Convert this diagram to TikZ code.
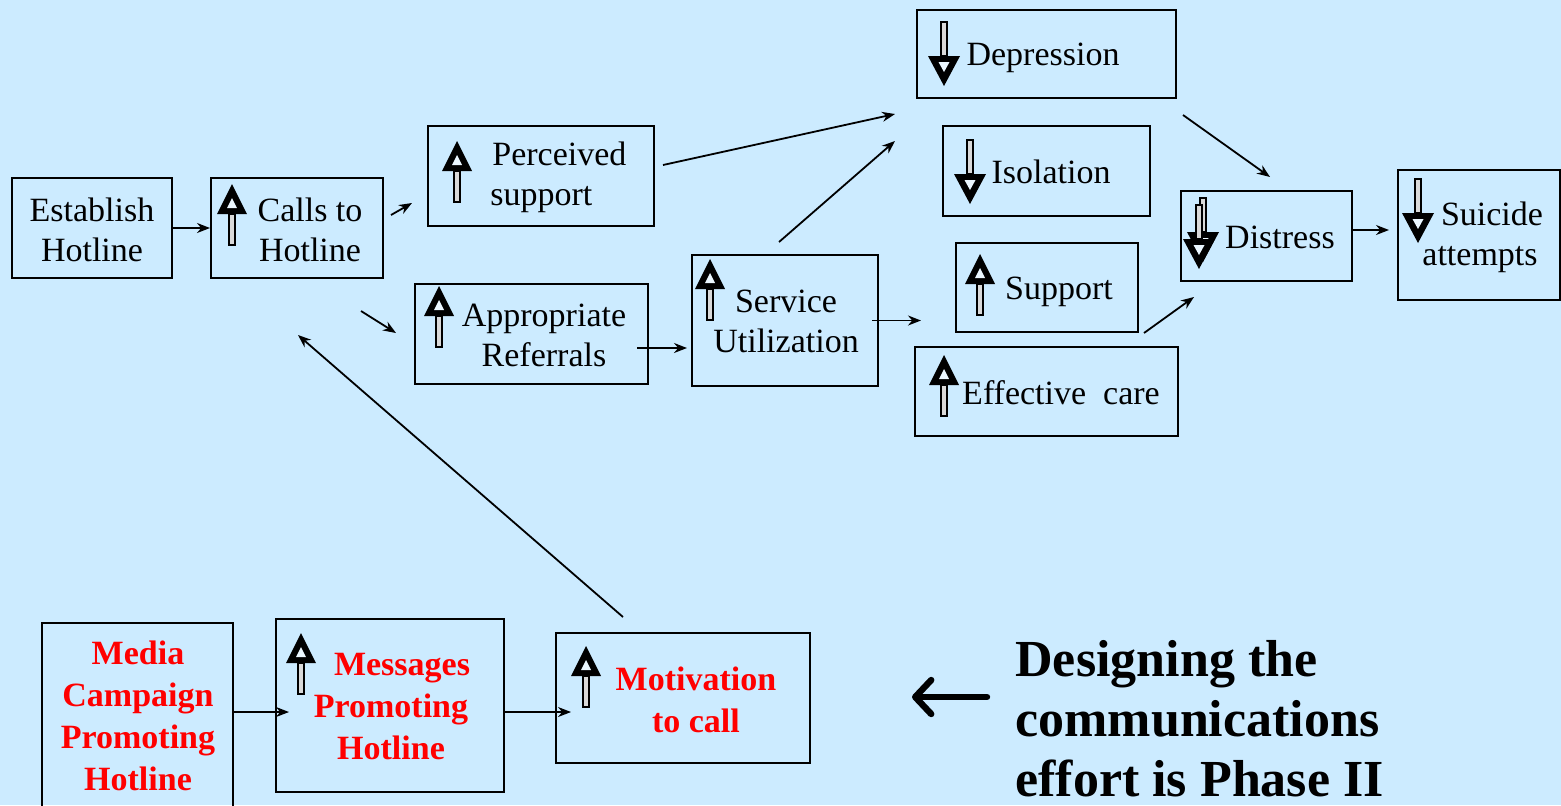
\documentclass[tikz,border=0pt]{standalone}
\usepackage{fontspec}
\setmainfont{Liberation Serif}
\usetikzlibrary{arrows.meta}
\usetikzlibrary{calc}
\definecolor{slidebg}{HTML}{CCEBFF}
\definecolor{campred}{HTML}{FF0000}

\begin{document}
\begin{tikzpicture}[x=0.5pt, y=-0.5pt,
    box/.style={draw, line width=1pt, inner sep=0pt},
    txt/.style={align=center, inner sep=0pt, font=\fontsize{17}{20}\selectfont},
    redtxt/.style={align=center, inner sep=0pt, text=campred, font=\fontsize{17}{21}\selectfont\bfseries},
    link/.style={-{Stealth[length=6.5pt,width=5pt]}, line width=0.9pt},
    upmark/.pic={
        \fill (0,0) -- (15,30) -- (-15,30) -- cycle;
        \fill[white!60!slidebg] (0,14) -- (5,24) -- (-5,24) -- cycle;
        \draw[line width=0.7pt, fill=white!70!gray] (-3,30) rectangle (3,61);
    },
    downmark/.pic={
        \draw[line width=0.7pt, fill=white!70!gray] (-3,0) rectangle (3,34);
        \fill (-16,34) -- (16,34) -- (0,64) -- cycle;
        \fill[white!60!slidebg] (-5.5,40) -- (5.5,40) -- (0,50) -- cycle;
    }]
    \fill[slidebg] (0,0) rectangle (1561,805);
    \useasboundingbox (0,0) rectangle (1561,805);

    % upper chain
    \node[box, minimum width=80pt, minimum height=50pt] (est) at (92,228) {};
    \node[txt] (estT) at (92,230) {Establish\\Hotline};
    \node[box, minimum width=86pt, minimum height=50pt] (calls) at (297,228) {};
    \node[txt] (callsT) at (310,230) {Calls to\\Hotline};
    \pic at (232,184) {upmark};
    \node[box, minimum width=113pt, minimum height=50pt] (perc) at (541,176) {};
    \node[txt, align=left, anchor=west] (percT) at (490,177) {\hspace*{1pt}Perceived\\support};
    \pic at (457,141) {upmark};
    \node[box, minimum width=116.5pt, minimum height=50pt] (appr) at (531.5,334) {};
    \node[txt] (apprT) at (544,335) {Appropriate\\Referrals};
    \pic at (439,286) {upmark};
    \node[box, minimum width=93pt, minimum height=65.5pt] (serv) at (785,320.5) {};
    \node[txt] (servT) at (786,321) {Service\\Utilization};
    \pic at (710,259) {upmark};

    % outcomes
    \node[box, minimum width=129.5pt, minimum height=44pt] (depr) at (1046.5,54) {};
    \node[txt] (deprT) at (1043,58) {Depression};
    \pic at (944,22) {downmark};
    \node[box, minimum width=103.5pt, minimum height=45pt] (isol) at (1046.5,171) {};
    \node[txt] (isolT) at (1051,172) {Isolation};
    \pic at (970,140) {downmark};
    \node[box, minimum width=91pt, minimum height=44.5pt] (supp) at (1047,287.5) {};
    \node[txt] (suppT) at (1059,292) {Support};
    \pic at (980,254) {upmark};
    \node[box, minimum width=131.5pt, minimum height=44.5pt] (effc) at (1046.5,391.5) {};
    \node[txt] (effcT) at (1061,393) {Effective\ \ care};
    \pic at (944,355) {upmark};
    \node[box, minimum width=85.5pt, minimum height=45pt] (dist) at (1266.5,236) {};
    \node[txt] (distT) at (1280,237) {Distress};
    \pic at (1203,198) {downmark};
    \pic at (1199,205) {downmark};
    \node[box, minimum width=81pt, minimum height=65pt] (suic) at (1479,235) {};
    \node[txt] (suicT) at (1480,237) {\hspace*{12pt}Suicide\\attempts};
    \pic at (1418,179) {downmark};

    % communications chain
    \node[box, minimum width=95.5pt, minimum height=100pt] (media) at (137.5,723) {};
    \node[redtxt] (mediaT) at (138,716) {Media\\Campaign\\Promoting\\Hotline};
    \node[box, minimum width=114pt, minimum height=86.5pt] (mess) at (390,705.5) {};
    \node[redtxt] (messT) at (391,707) {\hspace*{11pt}Messages\\Promoting\\Hotline};
    \pic at (301,633) {upmark};
    \node[box, minimum width=127pt, minimum height=65pt] (motiv) at (683,698) {};
    \node[redtxt] (motivT) at (696,700) {Motivation\\to call};
    \pic at (586,646) {upmark};

    \node[anchor=west, align=left, inner sep=0pt, font=\fontsize{26}{30}\selectfont\bfseries] (phase) at (1015,719)
        {Designing the\\communications\\effort is Phase II};
    \coordinate (bigA) at (987,697);
    \coordinate (bigB) at (912,697);
    \draw[line width=3.2pt, line cap=round, -{Straight Barb[length=8pt,width=17pt,round]}] (bigA) -- (bigB);

    % connectors
    \draw[link] (est.east) -- (calls.west);
    \draw[link] ($(calls.east)+(7,-13)$) -- ($(perc.west)+(-15,27)$);
    \draw[link] ($(calls.south east)+(-23,32)$) -- ($(appr.west)+(-18,-1)$);
    \draw[link] ($(perc.east)+(8,-11)$) -- ($(depr.south west)+(-21,15)$);
    \draw[link] ($(appr.east)+(-12,14)$) -- ($(serv.west)+(-4,27.5)$);
    \draw[link] ($(serv.north)+(-6,-12)$) -- ($(depr.south west)+(-21,42)$);
    \draw[link] ($(serv.east)+(-7,0)$) -- ($(serv.east)+(42,0)$);
    \draw[link] ($(depr.south east)+(6,16)$) -- ($(dist.north)+(3.5,-13)$);
    \draw[link] ($(supp.south east)+(5,0)$) -- ($(dist.south west)+(14,15)$);
    \draw[link] ($(dist.east)+(0,-6)$) -- ($(suic.west)+(-8,-5)$);
    \draw[link] ($(media.east)+(0,-11)$) -- ($(mess.west)+(14,6.5)$);
    \draw[link] ($(mess.east)+(0,6.5)$) -- ($(motiv.west)+(16,14)$);
    \draw[link] ($(motiv.north)+(-60,-15)$) -- ($(calls.south)+(1,56)$);
\end{tikzpicture}
\end{document}
